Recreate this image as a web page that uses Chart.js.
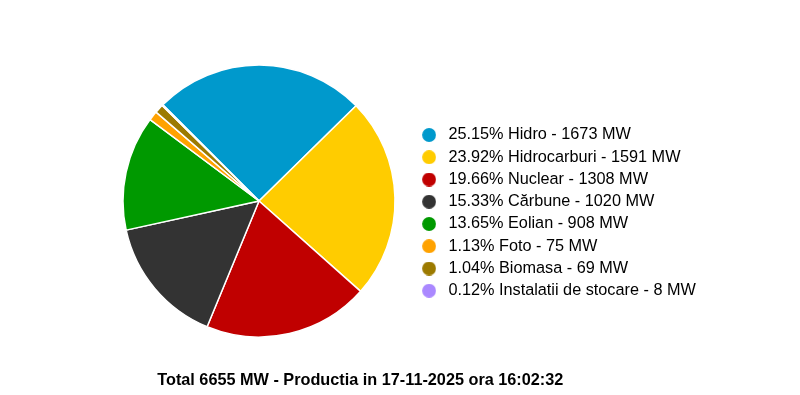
<!DOCTYPE html>
<html>
<head>
<meta charset="utf-8">
<script src="https://cdn.jsdelivr.net/npm/chart.js@4/dist/chart.umd.min.js"></script>
<style>
  html, body { margin: 0; padding: 0; background: #ffffff; }
  #wrap { position: relative; width: 800px; height: 395px; overflow: hidden; }
  #c { position: absolute; left: 0; top: 0; }
  #title {
    position: absolute; left: 0; top: 369px; width: 720.6px; text-align: center;
    font: bold 16.25px Arial, "Liberation Sans", sans-serif; line-height: 20px; color: #000;
    white-space: nowrap;
  }
</style>
</head>
<body>
<div id="wrap">
  <canvas id="c" width="800" height="395"></canvas>
  <div id="title"></div>
</div>
<script>
// ---- data ----
const categories = ['Hidro', 'Hidrocarburi', 'Nuclear', 'Cărbune', 'Eolian', 'Foto', 'Biomasa', 'Instalatii de stocare'];
const valuesMW = [1673, 1591, 1308, 1020, 908, 75, 69, 8];
const percentLabels = ['25.15', '23.92', '19.66', '15.33', '13.65', '1.13', '1.04', '0.12'];
const totalMW = 6655;
const dateLabel = '17-11-2025';
const timeLabel = '16:02:32';

// ---- styles ----
const colors = ['#0099cc', '#ffcc00', '#c00000', '#333333', '#009900', '#ffa200', '#9c7a00', '#aa88ff'];

document.getElementById('title').textContent =
  'Total ' + totalMW + ' MW - Productia in ' + dateLabel + ' ora ' + timeLabel;

function dot(color) {
  const cv = document.createElement('canvas');
  cv.width = 14; cv.height = 14;
  const g = cv.getContext('2d');
  g.fillStyle = color;
  g.beginPath();
  g.arc(7, 7, 6.9, 0, Math.PI * 2);
  g.fill();
  return cv;
}
const dots = colors.map(dot);

new Chart(document.getElementById('c'), {
  type: 'pie',
  data: {
    labels: categories,
    datasets: [{
      data: valuesMW,
      backgroundColor: colors,
      borderColor: '#ffffff',
      borderWidth: 1.5,
      clip: false
    }]
  },
  options: {
    responsive: false,
    animation: false,
    events: [],
    rotation: -45,
    radius: 136,
    layout: { padding: { left: 106, right: 98, top: 97.125, bottom: 90.125 } },
    plugins: {
      tooltip: { enabled: false },
      title: { display: false },
      legend: {
        display: true,
        position: 'right',
        align: 'end',
        maxWidth: 290,
        labels: {
          usePointStyle: true,
          pointStyleWidth: 22.25,
          boxHeight: 14,
          padding: 6,
          color: '#222222',
          font: { family: 'Arial, "Liberation Sans", sans-serif', size: 16.25 },
          generateLabels: (chart) => categories.map((c, i) => ({
            text: percentLabels[i] + '% ' + c + ' - ' + valuesMW[i] + ' MW',
            fillStyle: colors[i],
            strokeStyle: colors[i],
            lineWidth: 0,
            pointStyle: dots[i],
            hidden: false,
            index: i
          }))
        }
      }
    }
  }
});
</script>
</body>
</html>
